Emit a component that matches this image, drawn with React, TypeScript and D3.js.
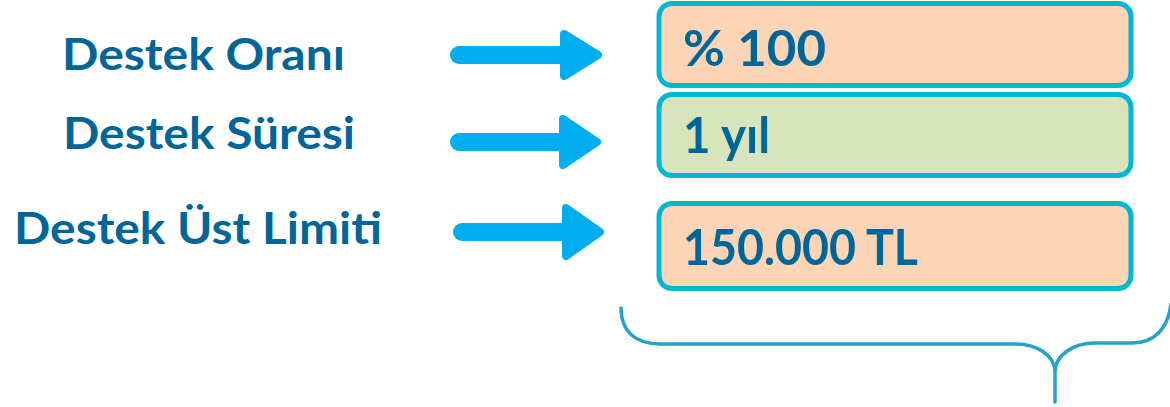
import React from "react";
import * as d3 from "d3";

const labels = ["Destek Oranı", "Destek Süresi", "Destek Üst Limiti"];
const values = ["% 100", "1 yıl", "150.000 TL"];
const fills = ["#FBD5B5", "#D7E4BC", "#FBD5B5"];

const W = 1170;
const H = 407;

// layout per row
const labelX = [62, 63, 14];
const labelBase = [70, 149, 244];
const labelLen = [283, 292, 368];
const arrowY = [55, 142, 232];
const arrowX0 = [450, 450, 453];
const arrowTip = [602, 601, 604];
const arrowHalf = [25, 27, 28];
const boxY = [2, 93, 202];
const boxH = [85, 84, 88];
const valueBase = [66, 153, 265];
const valueLen = [143, 87, 235];

const TEXT = "#00669A";
const ARROW = "#00ADEE";
const BORDER = "#00B7D3";

function arrowHead(i: number) {
  const p = d3.path();
  const tip = arrowTip[i] - 4;
  const bx = tip - 34;
  const cy = arrowY[i];
  const h = arrowHalf[i] - 4;
  p.moveTo(bx, cy - h);
  p.lineTo(tip, cy);
  p.lineTo(bx, cy + h);
  p.closePath();
  return p.toString();
}

function bracePath() {
  const p = d3.path();
  p.moveTo(621, 308);
  p.bezierCurveTo(621, 332, 636, 344, 660, 344);
  p.lineTo(1015, 344);
  p.bezierCurveTo(1038, 344, 1055, 356, 1055, 372);
  p.lineTo(1055, 402);
  p.moveTo(1055, 372);
  p.bezierCurveTo(1055, 356, 1072, 343, 1095, 343);
  p.lineTo(1132, 343);
  p.bezierCurveTo(1155, 343, 1168, 328, 1171, 304);
  return p.toString();
}

export default function App() {
  return (
    <svg
      width={W}
      height={H}
      style={{ position: "absolute", left: 0, top: 0, background: "#fff" }}
    >
      {labels.map((l, i) => (
        <text
          key={"l" + i}
          x={labelX[i]}
          y={labelBase[i]}
          fontFamily="Lato"
          fontWeight={700}
          fontSize={43}
          fill={TEXT}
          textLength={labelLen[i]}
          lengthAdjust="spacingAndGlyphs"
        >
          {l}
        </text>
      ))}
      {labels.map((_, i) => (
        <g key={"a" + i} fill={ARROW} stroke={ARROW}>
          <line
            x1={arrowX0[i] + 9}
            x2={arrowTip[i] - 30}
            y1={arrowY[i]}
            y2={arrowY[i]}
            strokeWidth={18}
            strokeLinecap="round"
          />
          <path d={arrowHead(i)} strokeWidth={8} strokeLinejoin="round" />
        </g>
      ))}
      {values.map((v, i) => (
        <g key={"b" + i}>
          <rect
            x={659}
            y={boxY[i] + 1.5}
            width={472}
            height={boxH[i] - 3}
            rx={13}
            fill={fills[i]}
            stroke={BORDER}
            strokeWidth={5}
          />
          <text
            x={683}
            y={valueBase[i]}
            fontFamily="Lato"
            fontWeight={700}
            fontSize={50}
            fill={TEXT}
            textLength={valueLen[i]}
            lengthAdjust="spacingAndGlyphs"
          >
            {v}
          </text>
        </g>
      ))}
      <path
        d={bracePath()}
        fill="none"
        stroke="#23A3CC"
        strokeWidth={3.5}
        strokeLinecap="round"
      />
    </svg>
  );
}
